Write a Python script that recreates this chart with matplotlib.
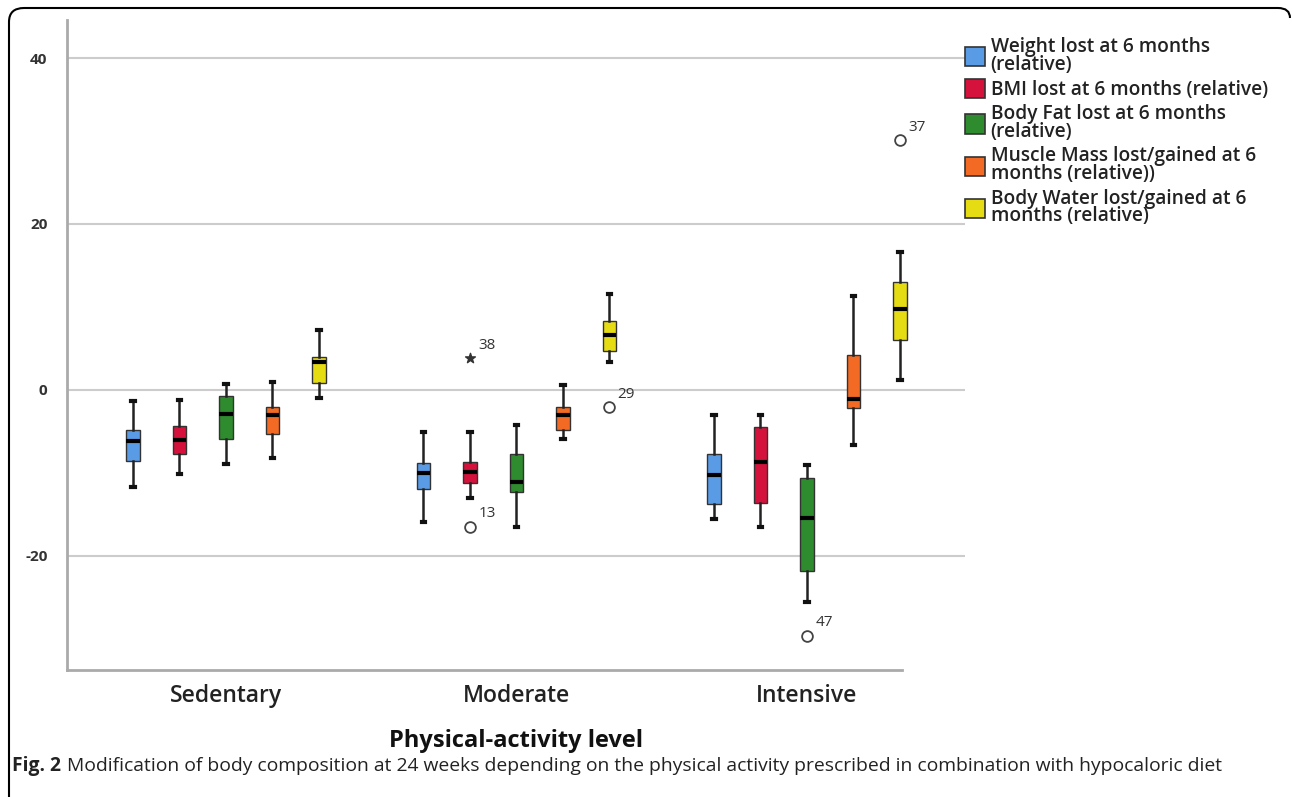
import matplotlib
matplotlib.use("Agg")
import matplotlib.pyplot as plt
from matplotlib.patches import Patch, PathPatch
from matplotlib.path import Path
import numpy as np

plt.rcParams['font.family'] = ['Open Sans', 'DejaVu Sans']

# ---------------- data ----------------
groups = ["Sedentary", "Moderate", "Intensive"]
series = ["Weight lost at 6 months\n(relative)",
          "BMI lost at 6 months (relative)",
          "Body Fat lost at 6 months\n(relative)",
          "Muscle Mass lost/gained at 6\nmonths (relative))",
          "Body Water lost/gained at 6\nmonths (relative)"]
colors = ["#5a9be6", "#d4123c", "#2e8b2e", "#f26a24", "#e6dc14"]

# per group: rows = series; [whisker low, Q1, median, Q3, whisker high]
sedentary = [[-11.7, -8.6, -6.2, -4.8, -1.3],
             [-10.1, -7.8, -6.1, -4.4, -1.2],
             [-9.0, -5.9, -2.9, -0.7, 0.7],
             [-8.2, -5.3, -3.1, -2.1, 0.9],
             [-1.0, 0.8, 3.3, 4.0, 7.2]]
moderate = [[-16.0, -12.0, -10.0, -8.8, -5.1],
            [-13.1, -11.3, -9.9, -8.7, -5.1],
            [-16.6, -12.3, -11.1, -7.7, -4.2],
            [-5.9, -4.9, -3.0, -2.1, 0.6],
            [3.3, 4.7, 6.6, 8.3, 11.5]]
intensive = [[-15.6, -13.8, -10.3, -7.8, -3.1],
             [-16.5, -13.7, -8.7, -4.5, -3.0],
             [-25.6, -21.9, -15.5, -10.6, -9.1],
             [-6.7, -2.2, -1.1, 4.2, 11.3],
             [1.2, 6.0, 9.8, 13.0, 16.6]]
group_data = [sedentary, moderate, intensive]

# outliers: group index, series index, value, case label, marker
out_group = [1, 1, 1, 2, 2]
out_series = [1, 1, 4, 2, 4]
out_value = [3.8, -16.5, -2.1, -29.7, 30.1]
out_label = ["38", "13", "29", "47", "37"]
out_marker = ["*", "o", "o", "o", "o"]

yticks = [-20, 0, 20, 40]

# ---------------- figure ----------------
W, H = 1292, 797
fig = plt.figure(figsize=(W / 100, H / 100), dpi=100)
ax = fig.add_axes([67 / W, 1 - 670 / H, (965 - 67) / W, (670 - 20) / H])

offset = 0.16
bw = 0.046
for g, data in enumerate(group_data):
    for i, row in enumerate(data):
        lo, q1, med, q3, hi = row
        st = [dict(whislo=lo, q1=q1, med=med, q3=q3, whishi=hi, fliers=[])]
        pos = g + (i - 2) * offset
        ax.bxp(st, positions=[pos], widths=bw, patch_artist=True,
               showfliers=False, manage_ticks=False,
               boxprops=dict(facecolor=colors[i], edgecolor="#333333", linewidth=1.0),
               medianprops=dict(color="black", linewidth=3.0),
               whiskerprops=dict(color="#222222", linewidth=1.8),
               capprops=dict(color="#111111", linewidth=3.0),
               capwidths=0.012)

for g, s, v, lab, m in zip(out_group, out_series, out_value, out_label, out_marker):
    pos = g + (s - 2) * offset
    if m == "o":
        ax.scatter([pos], [v], s=60, marker="o", facecolor="white",
                   edgecolor="#444444", linewidth=1.3, zorder=5)
    else:
        ax.scatter([pos], [v], s=55, marker="*", color="#333333", zorder=5)
    ax.annotate(lab, (pos, v), xytext=(6, 4), textcoords="offset points",
                fontsize=11, color="#333333", ha="left", va="bottom")

ax.set_xlim(-0.547, 2.544)
ax.set_ylim(-33.8, 44.6)
ax.set_yticks(yticks)
ax.set_yticklabels([str(t) for t in yticks], fontsize=11, fontweight="bold", color="#333333")
ax.tick_params(axis="y", length=0, pad=14)
ax.set_xticks(range(len(groups)))
ax.set_xticklabels(groups, fontsize=16.5, color="#222222", fontweight="semibold")
ax.tick_params(axis="x", length=0, pad=10)
ax.grid(axis="y", color="#cccccc", linewidth=1.5)
ax.set_axisbelow(True)
for sp in ["top", "right"]:
    ax.spines[sp].set_visible(False)
ax.spines["left"].set_color("#aaaaaa")
ax.spines["left"].set_linewidth(2)
ax.spines["bottom"].set_color("#aaaaaa")
ax.spines["bottom"].set_linewidth(2)
ax.spines["bottom"].set_bounds(-0.547, 2.327)
ax.set_xlabel("Physical-activity level", fontsize=17, fontweight="bold", color="#111111", labelpad=15)

handles = [Patch(facecolor=c, edgecolor="#333333", linewidth=1.2) for c in colors]
leg = fig.legend(handles, series, loc="upper left", bbox_to_anchor=(957 / W, 1 - 29 / H),
                 frameon=False, handlelength=1.05, handleheight=1.2,
                 handletextpad=0.3, labelspacing=0.22, borderaxespad=0,
                 prop=dict(size=13.8, weight="semibold"), labelcolor="#222222")
for t in leg.get_texts():
    t.set_linespacing(0.86)

# frame (left and top edges, rounded corners)
def fx(x): return x / W
def fy(y): return 1 - y / H
verts = [(fx(9), fy(797)), (fx(9), fy(22)), (fx(9), fy(8)), (fx(24), fy(8)),
         (fx(1278), fy(8)), (fx(1290), fy(8)), (fx(1290), fy(18))]
codes = [Path.MOVETO, Path.LINETO, Path.CURVE3, Path.CURVE3, Path.LINETO, Path.CURVE3, Path.CURVE3]
fig.patches.append(PathPatch(Path(verts, codes), transform=fig.transFigure,
                             fill=False, edgecolor="black", linewidth=1.5))

# caption
t1 = fig.text(12 / W, fy(766), "Fig. 2", fontsize=13.9, fontweight="bold",
              color="#222222", va="center", ha="left")
fig.canvas.draw()
bb = t1.get_window_extent()
fig.text((bb.x1 + 6) / W, fy(766),
         "Modification of body composition at 24 weeks depending on the physical activity prescribed in combination with hypocaloric diet",
         fontsize=13.9, color="#222222", va="center", ha="left")

fig.savefig("out.png", dpi=100)
